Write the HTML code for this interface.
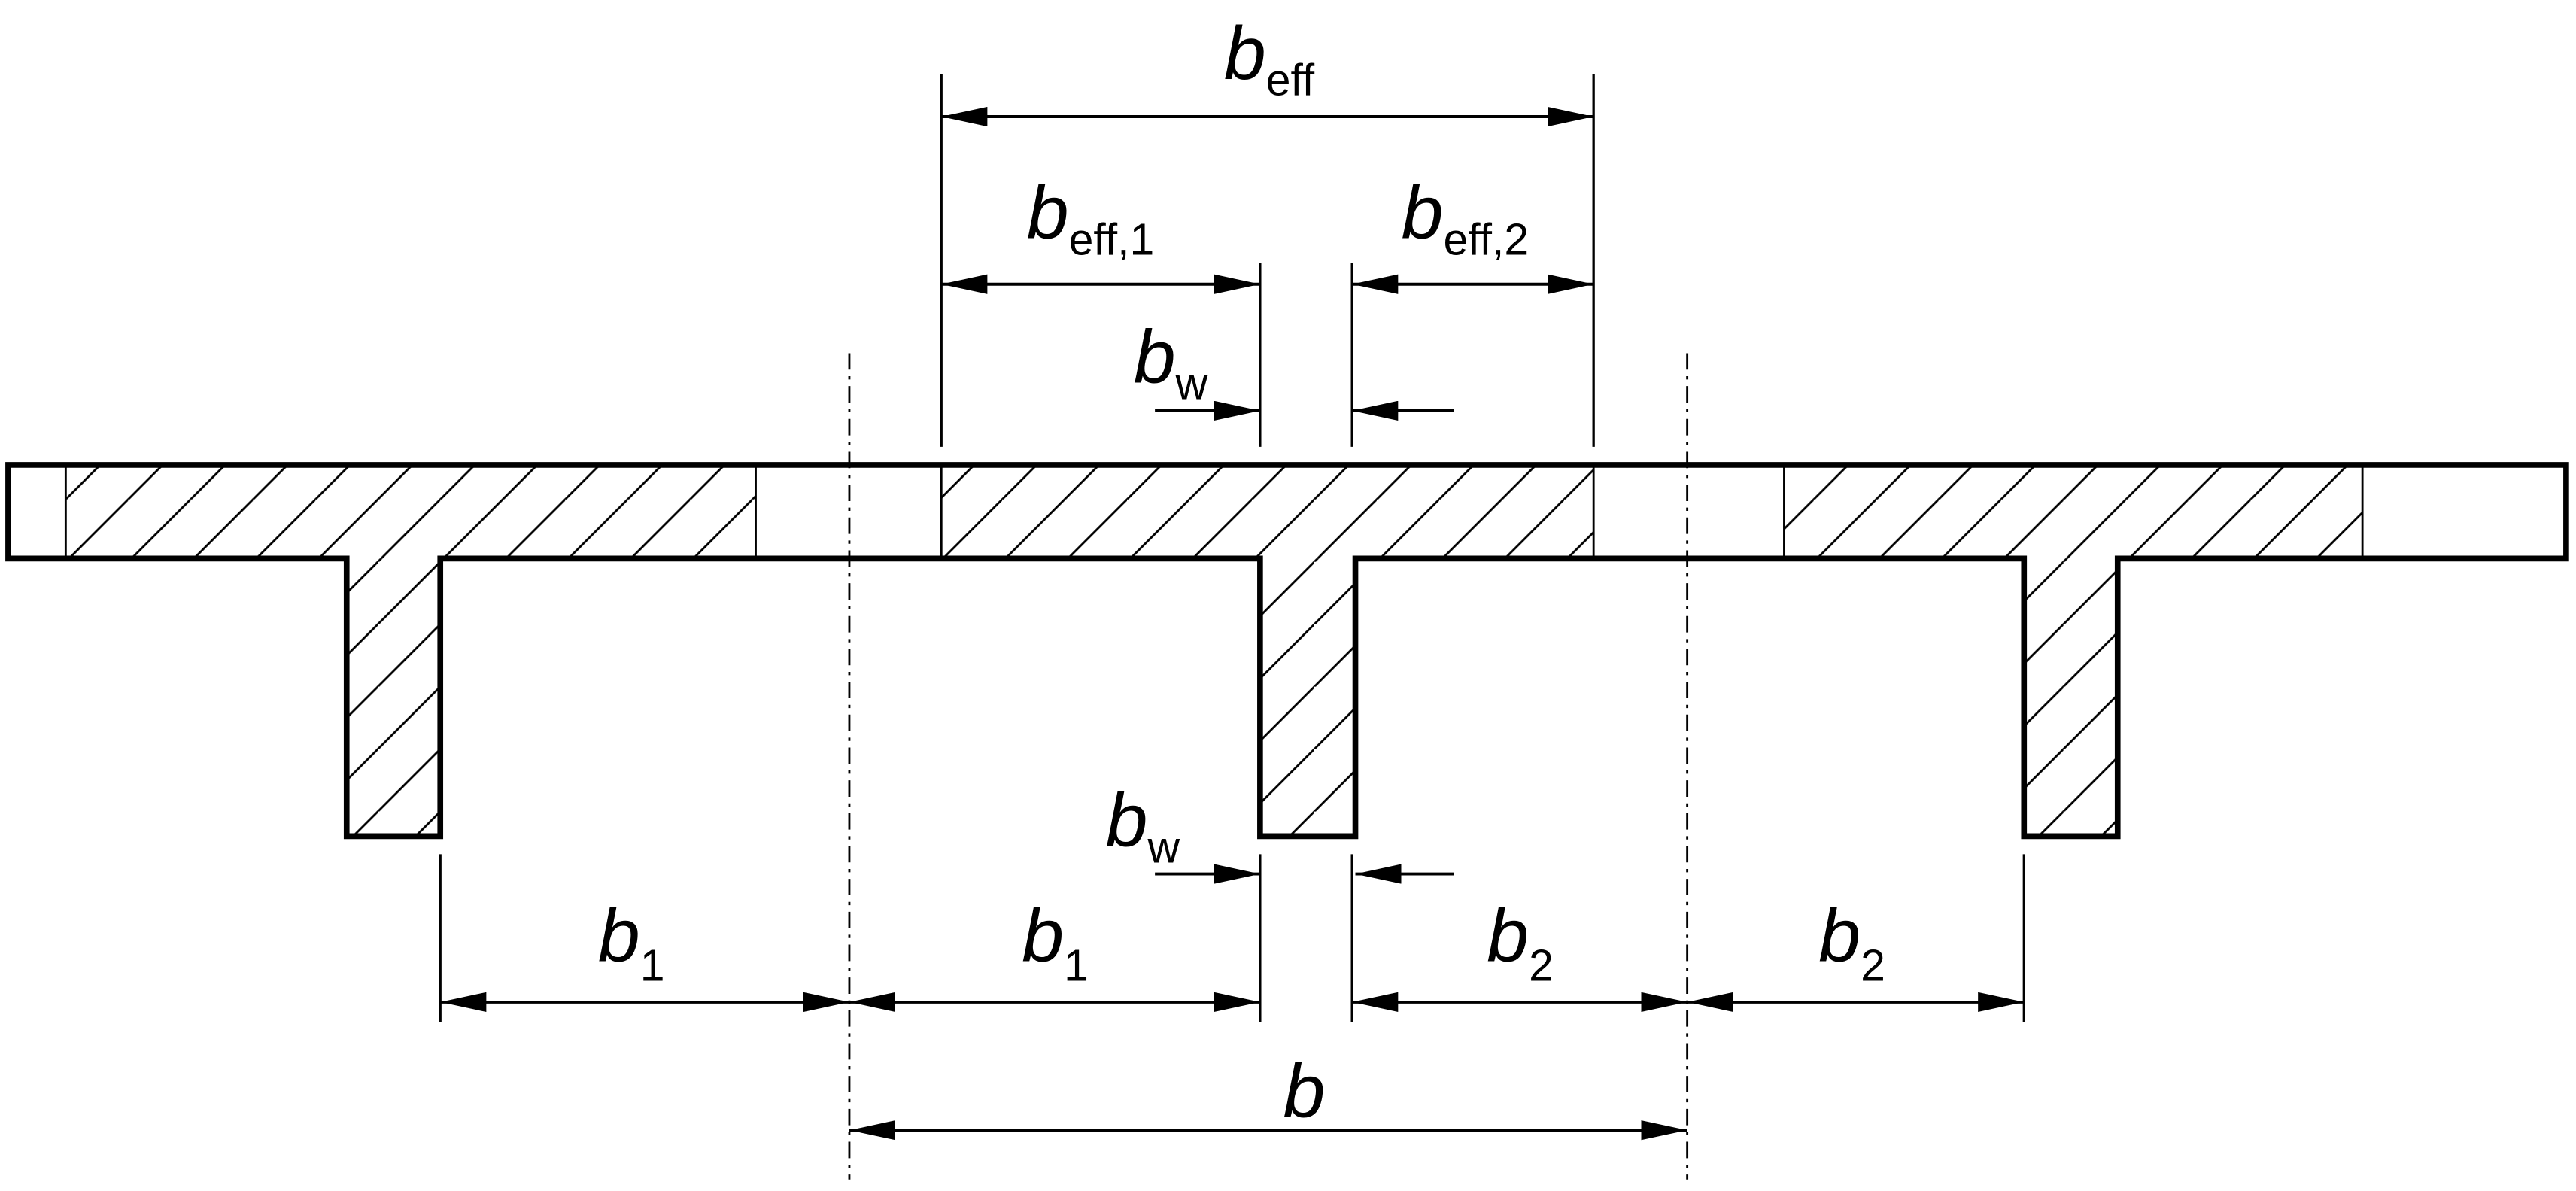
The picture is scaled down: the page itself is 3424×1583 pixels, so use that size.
<!DOCTYPE html>
<html><head><meta charset="utf-8"><style>
html,body{margin:0;padding:0;background:#fff;}
svg{display:block;}
text{font-family:"Liberation Sans",sans-serif;font-style:italic;fill:#000;}
.s{font-style:normal;}
</style></head><body>
<svg width="3424" height="1583" viewBox="0 0 1568 725" preserveAspectRatio="none" xmlns="http://www.w3.org/2000/svg">
<defs>
<pattern id="h" patternUnits="userSpaceOnUse" width="38" height="38" x="2" y="0">
<path d="M-2,40 L40,-2 M-40,38 L38,-40 M0,76 L76,0" stroke="#000" stroke-width="1.3"/>
</pattern>
<marker id="a" viewBox="0 0 28 12" refX="28" refY="6" markerWidth="28" markerHeight="12" markerUnits="userSpaceOnUse" orient="auto-start-reverse">
<path d="M0,0 L28,6 L0,12 Z" fill="#000"/>
</marker>
</defs>
<!-- hatched regions -->
<rect x="40" y="283" width="420" height="57" fill="url(#h)"/>
<rect x="573" y="283" width="397" height="57" fill="url(#h)"/>
<rect x="1086" y="283" width="352" height="57" fill="url(#h)"/>
<rect x="211" y="340" width="57" height="169" fill="url(#h)"/>
<rect x="767" y="340" width="58" height="169" fill="url(#h)"/>
<rect x="1232" y="340" width="57" height="169" fill="url(#h)"/>
<g stroke="#000" stroke-width="1.3">
<line x1="40" y1="283" x2="40" y2="340"/><line x1="460" y1="283" x2="460" y2="340"/>
<line x1="573" y1="283" x2="573" y2="340"/><line x1="970" y1="283" x2="970" y2="340"/>
<line x1="1086" y1="283" x2="1086" y2="340"/><line x1="1438" y1="283" x2="1438" y2="340"/>
</g>
<!-- outline -->
<path d="M5,283 L1562,283 L1562,340 L1289,340 L1289,509 L1232,509 L1232,340 L825,340 L825,509 L767,509 L767,340 L268,340 L268,509 L211,509 L211,340 L5,340 Z" fill="none" stroke="#000" stroke-width="3.5"/>
<!-- dash-dot axes -->
<g stroke="#000" stroke-width="1.3" stroke-dasharray="10,4,2,4">
<line x1="517" y1="215" x2="517" y2="718"/>
<line x1="1027" y1="215" x2="1027" y2="718"/>
</g>
<!-- extension lines -->
<g stroke="#000" stroke-width="1.5">
<line x1="573" y1="45" x2="573" y2="272"/>
<line x1="970" y1="45" x2="970" y2="272"/>
<line x1="767" y1="160" x2="767" y2="272"/>
<line x1="823" y1="160" x2="823" y2="272"/>
<line x1="268" y1="520" x2="268" y2="622"/>
<line x1="767" y1="520" x2="767" y2="622"/>
<line x1="823" y1="520" x2="823" y2="622"/>
<line x1="1232" y1="520" x2="1232" y2="622"/>
</g>
<!-- dimension lines -->
<g stroke="#000" stroke-width="1.8" fill="none">
<line x1="573" y1="71" x2="970" y2="71" marker-start="url(#a)" marker-end="url(#a)"/>
<line x1="573" y1="173" x2="767" y2="173" marker-start="url(#a)" marker-end="url(#a)"/>
<line x1="823" y1="173" x2="970" y2="173" marker-start="url(#a)" marker-end="url(#a)"/>
<line x1="703" y1="250" x2="767" y2="250" marker-end="url(#a)"/>
<line x1="885" y1="250" x2="823" y2="250" marker-end="url(#a)"/>
<line x1="703" y1="532" x2="767" y2="532" marker-end="url(#a)"/>
<line x1="885" y1="532" x2="825" y2="532" marker-end="url(#a)"/>
<line x1="268" y1="610" x2="517" y2="610" marker-start="url(#a)" marker-end="url(#a)"/>
<line x1="517" y1="610" x2="767" y2="610" marker-start="url(#a)" marker-end="url(#a)"/>
<line x1="823" y1="610" x2="1027" y2="610" marker-start="url(#a)" marker-end="url(#a)"/>
<line x1="1027" y1="610" x2="1232" y2="610" marker-start="url(#a)" marker-end="url(#a)"/>
<line x1="517" y1="688" x2="1027" y2="688" marker-start="url(#a)" marker-end="url(#a)"/>
</g>
<!-- labels -->
<g font-size="46">
<text x="745" y="48">b<tspan class="s" font-size="27" dy="10">eff</tspan></text>
<text x="625" y="145">b<tspan class="s" font-size="27" dy="10">eff,1</tspan></text>
<text x="853" y="145">b<tspan class="s" font-size="27" dy="10">eff,2</tspan></text>
<text x="690" y="233">b<tspan class="s" font-size="27" dy="10">w</tspan></text>
<text x="673" y="515">b<tspan class="s" font-size="27" dy="10">w</tspan></text>
<text x="364" y="585">b<tspan class="s" font-size="27" dy="12">1</tspan></text>
<text x="622" y="585">b<tspan class="s" font-size="27" dy="12">1</tspan></text>
<text x="905" y="585">b<tspan class="s" font-size="27" dy="12">2</tspan></text>
<text x="1107" y="585">b<tspan class="s" font-size="27" dy="12">2</tspan></text>
<text x="781" y="680">b</text>
</g>
</svg>
</body></html>
